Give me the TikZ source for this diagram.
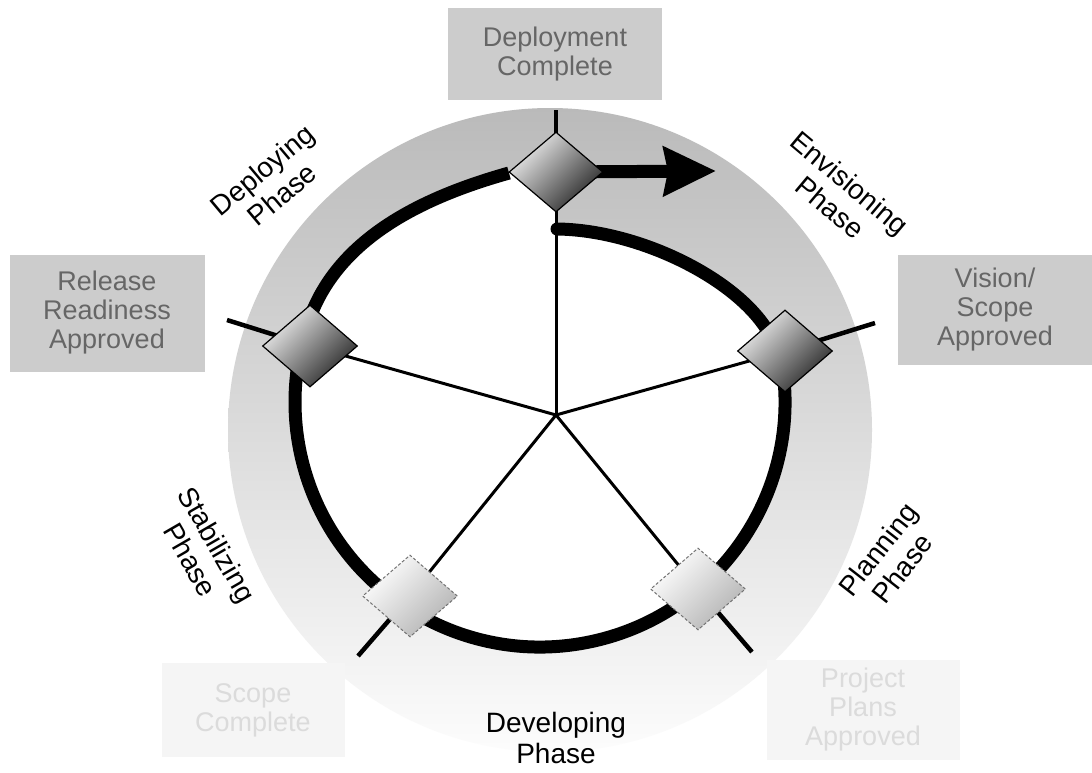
\documentclass[tikz,border=0pt]{standalone}
\usepackage{fontspec}
\setmainfont{Liberation Sans}
\usetikzlibrary{shapes.geometric,arrows.meta,calc}
\begin{document}
\begin{tikzpicture}[x=1pt,y=-1pt,
  ring/.style={line width=13pt, black},
  spoke/.style={line width=3pt, black},
  stub/.style={line width=4.5pt, black},
  darkdia/.style={diamond, draw=black, line width=1.2pt, minimum width=95pt, minimum height=82pt, inner sep=0pt, top color=black!6, bottom color=black!85, shading angle=45},
  lightdia/.style={diamond, draw=black!55, densely dashed, line width=1pt, minimum width=95pt, minimum height=82pt, inner sep=0pt, top color=white, bottom color=black!30, shading angle=45},
  phase/.style={font=\fontsize{28}{31}\selectfont, align=center, inner sep=0pt},
  msbox/.style={fill=black!20, text=black!60, font=\fontsize{27}{29}\selectfont, align=center, inner sep=0pt},
  faintbox/.style={fill=black!4, text=black!14, font=\fontsize{27}{29}\selectfont, align=center, inner sep=0pt}
]
\useasboundingbox (0,0) rectangle (1092,772);
\fill[white] (0,0) rectangle (1092,772);
\coordinate (O) at (540,402);
\coordinate (C) at (556,415);
\coordinate (pT) at (556,172);
\coordinate (pR) at (785,351);
\coordinate (pL) at (310,346);
\coordinate (pBL) at (410,596);
\coordinate (pBR) at (698,589);
\coordinate (eT) at (556,110);
\coordinate (eR) at (875,323);
\coordinate (eL) at (227,320);
\coordinate (eBL) at (358,656);
\coordinate (eBR) at (752,652);
\coordinate (tip) at (716,171);
\coordinate (sS) at (557,229);
\coordinate (sE) at (770,335);
\coordinate (tl) at (509,173);

% grey halo
\shade[top color=black!27, bottom color=black!1] (550,430) circle[radius=322];
% white interior
\fill[white] (sS) .. controls (640,230) and (740,280) .. (sE) -- ($(O)+(-12:245)$) arc[start angle=-12,end angle=200,radius=245] .. controls +(290:87) and +(164.3:87) .. (tl) -- (pT) -- cycle;

% spokes
\foreach \p in {T,R,L,BL,BR}{
  \draw[spoke] (C) -- (p\p);
  \draw[stub] (p\p) -- (e\p);
}

% ring and spiral
\draw[ring] ($(O)+(-12:245)$) arc[start angle=-12,end angle=200,radius=245] .. controls +(290:87) and +(164.3:87) .. (tl);
\draw[ring, line cap=round] (sE) .. controls (740,280) and (640,230) .. (sS);

% arrow out
\draw[ring, -{Stealth[length=52pt, width=48pt, inset=4pt]}] (pT) -- (tip);

% milestones
\node[darkdia, minimum width=94pt, minimum height=80pt] (dT) at (pT) {};
\node[darkdia] (dL) at (pL) {};
\node[darkdia] (dR) at (pR) {};
\node[lightdia] (dBL) at (pBL) {};
\node[lightdia] (dBR) at (pBR) {};

% phase labels
\node[phase, rotate=40] (lDep) at (272,182) {Deploying\\Phase};
\node[phase, rotate=-40] (lEnv) at (840,195) {Envisioning\\Phase};
\node[phase, rotate=-60] (lStab) at (204,552) {Stabilizing\\Phase};
\node[phase, rotate=52] (lPlan) at (890,559) {Planning\\Phase};
\node[phase] (lDev) at (556,738) {Developing\\Phase};

% milestone boxes
\node[msbox, minimum width=214pt, minimum height=92pt] (mDep) at (555,54) {Deployment\\Complete};
\node[msbox, minimum width=195pt, minimum height=117pt] (mRel) at (107,313) {Release\\Readiness\\Approved};
\node[msbox, minimum width=194pt, minimum height=110pt] (mVis) at (995,310) {Vision/\\Scope\\Approved};
\node[faintbox, minimum width=183pt, minimum height=94pt] (mScope) at (253,710) {Scope\\Complete};
\node[faintbox, minimum width=193pt, minimum height=100pt] (mPlan) at (863,710) {Project\\Plans\\Approved};
\end{tikzpicture}
\end{document}
